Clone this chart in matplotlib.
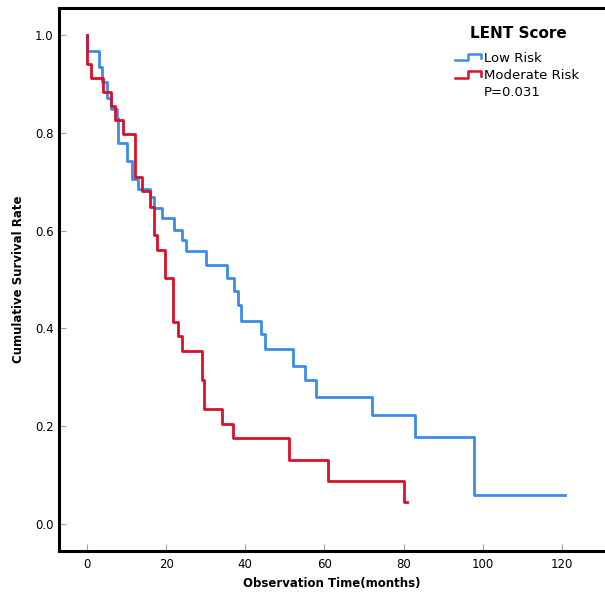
import matplotlib
matplotlib.use("Agg")
import matplotlib.pyplot as plt
from matplotlib.lines import Line2D
from matplotlib.legend_handler import HandlerBase

# Kaplan-Meier steps (time in months, survival rate)
low_time = [0, 0, 3.0, 3.7, 5.0, 6.1, 7.5, 7.9, 10.0, 11.4, 12.8, 15.9, 16.9,
            18.9, 22.0, 24.1, 24.9, 30.0, 35.3, 37.2, 38.1, 38.8, 44.0, 45.0,
            52.0, 55.0, 57.9, 71.9, 82.9, 97.9, 120.8]
low_surv = [1.0, 0.967, 0.935, 0.903, 0.871, 0.848, 0.83, 0.78, 0.743, 0.706,
            0.686, 0.668, 0.647, 0.625, 0.602, 0.581, 0.558, 0.529, 0.503,
            0.476, 0.447, 0.416, 0.389, 0.357, 0.324, 0.294, 0.26, 0.224,
            0.178, 0.059, 0.059]

mod_time = [0, 0, 1.0, 4.1, 6.1, 7.1, 9.0, 12.1, 14.0, 15.9, 16.9, 17.8, 19.7,
            21.8, 22.9, 23.9, 29.0, 29.6, 34.0, 37.0, 51.0, 60.8, 80.1, 80.8]
mod_surv = [1.0, 0.941, 0.912, 0.884, 0.855, 0.827, 0.797, 0.709, 0.68, 0.648,
            0.59, 0.561, 0.503, 0.413, 0.384, 0.354, 0.295, 0.236, 0.205,
            0.177, 0.132, 0.088, 0.046, 0.046]

x_ticks = [0, 20, 40, 60, 80, 100, 120]
y_ticks = [0.0, 0.2, 0.4, 0.6, 0.8, 1.0]

blue = "#3a8ce8"
red = "#d7102c"


class StepHandler(HandlerBase):
    # little step icon like the SPSS legend
    def create_artists(self, legend, orig_handle, xdescent, ydescent,
                       width, height, fontsize, trans):
        x0 = -xdescent
        y0 = -ydescent
        xs = [x0, x0 + 0.5 * width, x0 + 0.5 * width, x0 + width, x0 + width]
        ys = [y0 + 0.15 * height, y0 + 0.15 * height, y0 + 0.85 * height,
              y0 + 0.85 * height, y0 + 0.35 * height]
        ln = Line2D(xs, ys, color=orig_handle.get_color(),
                    linewidth=orig_handle.get_linewidth(), transform=trans)
        ln.set_visible(orig_handle.get_linewidth() > 0)
        return [ln]


fig = plt.figure(figsize=(6.05, 5.98), dpi=100)
ax = fig.add_axes([59 / 605, 47 / 598, 546 / 605, 543 / 598])

ax.step(low_time, low_surv, where="post", color=blue, linewidth=2.0)
ax.step(mod_time, mod_surv, where="post", color=red, linewidth=2.0)

ax.set_xlim(-7.07, 130.9)
ax.set_ylim(-0.055, 1.055)
ax.set_xticks(x_ticks)
ax.set_yticks(y_ticks)
ax.set_xticklabels([str(t) for t in x_ticks])
ax.set_yticklabels([f"{t:.1f}" for t in y_ticks])
ax.tick_params(axis="both", direction="in", length=5, width=0.8,
               color="#a0a0a0", labelsize=8.5)
ax.tick_params(axis="y", pad=4)
ax.tick_params(axis="x", pad=5)

ax.spines["right"].set_visible(False)
for s in ["left", "bottom", "top"]:
    ax.spines[s].set_linewidth(2.2)
    ax.spines[s].set_color("black")

ax.set_xlabel("Observation Time(months)", fontsize=8.5, fontweight="bold")
ax.set_ylabel("Cumulative Survival Rate", fontsize=8.5, fontweight="bold")
ax.xaxis.set_label_coords(0.5, -0.059)
ax.yaxis.set_label_coords(-0.075, 0.5)
ax.xaxis.label.set_va("center")
ax.yaxis.label.set_va("center")

fig.text(518 / 605, 1 - 33 / 598, "LENT Score", fontsize=11,
         fontweight="bold", ha="center", va="center")

h_low = Line2D([], [], color=blue, linewidth=1.8)
h_mod = Line2D([], [], color=red, linewidth=1.8)
h_p = Line2D([], [], color="white", linewidth=0)
leg = ax.legend([h_low, h_mod, h_p], ["Low Risk", "Moderate Risk", "P=0.031"],
                handler_map={Line2D: StepHandler()},
                frameon=False, fontsize=9.5, loc="upper left",
                bbox_to_anchor=(448 / 605, 1 - 45 / 598),
                bbox_transform=fig.transFigure, borderpad=0,
                handlelength=2.0, handletextpad=0.2, labelspacing=0.33)

fig.savefig("out.png", dpi=100)
